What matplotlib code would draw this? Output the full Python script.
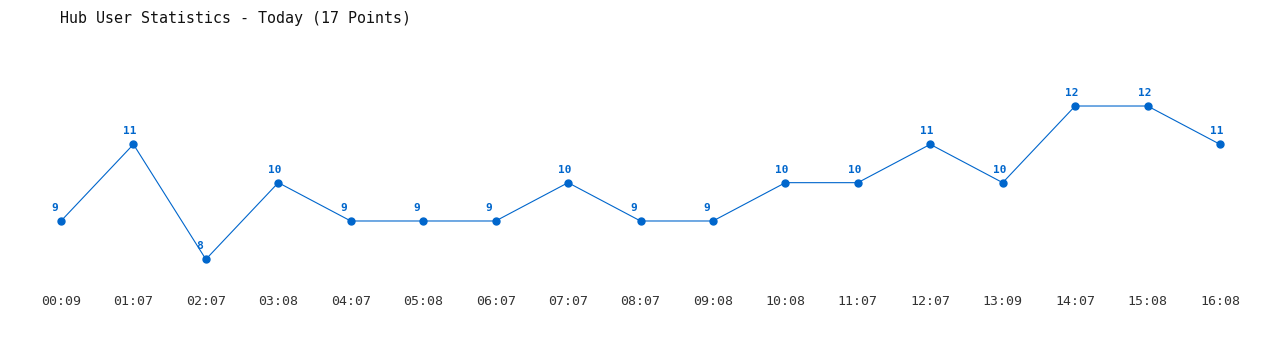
import matplotlib
matplotlib.use("Agg")
import matplotlib.pyplot as plt

# Hub user counts for today
times = ["00:09", "01:07", "02:07", "03:08", "04:07", "05:08", "06:07",
         "07:07", "08:07", "09:08", "10:08", "11:07", "12:07", "13:09",
         "14:07", "15:08", "16:08"]
users = [9, 11, 8, 10, 9, 9, 9, 10, 9, 9, 10, 10, 11, 10, 12, 12, 11]

blue = "#0066cc"
mono = "DejaVu Sans Mono"

fig = plt.figure(figsize=(12.8, 3.5), dpi=100)
ax = fig.add_axes([0, 0, 1, 1])
ax.set_xlim(-0.842, 16.828)
ax.set_ylim(5.634, 14.766)
ax.axis("off")

x = list(range(len(users)))
ax.plot(x, users, color=blue, linewidth=0.8, marker="o", markersize=5)

# value labels above points (left edge a bit left of the point)
for i, v in enumerate(users):
    ax.annotate(str(v), (i, v), xytext=(-10, 13),
                textcoords="offset pixels", ha="left", va="center",
                color=blue, fontsize=8, fontweight="bold", family=mono)

# time labels under the chart
for i, t in enumerate(times):
    ax.text(i, 6.887, t, ha="center", va="center", fontsize=9.5,
            family=mono, color="#333333")

fig.text(60 / 1280, 1 - 18 / 350, "Hub User Statistics - Today (17 Points)",
         ha="left", va="center", fontsize=10.8, family=mono, color="#111111")

fig.savefig("out.png", dpi=100)
